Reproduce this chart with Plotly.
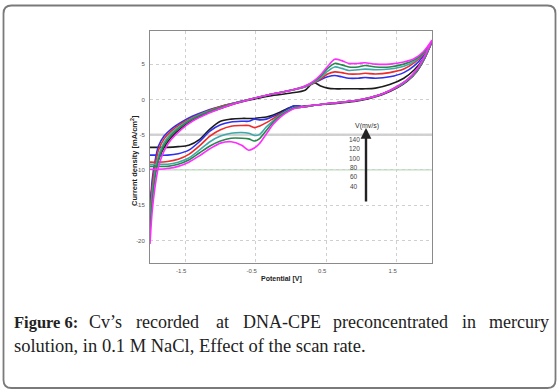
import plotly.graph_objects as go

W, H = 559, 392

# ---------------- data ----------------
scan_rates = [40, 60, 80, 100, 120, 140]
colors = ["#1c1c1c", "#2f2fee", "#ee2a2a", "#3fa9a9", "#26884a", "#ff2bff"]

v_up = [-2.0, -1.97, -1.93, -1.88, -1.8, -1.7, -1.55, -1.4, -1.2, -1.0, -0.8, -0.55, -0.3, 0.0,
        0.2, 0.32, 0.42, 0.52, 0.62, 0.72, 0.82, 0.95, 1.05, 1.2, 1.4, 1.6, 1.75, 1.88, 2.0]
v_dn = [2.0, 1.9, 1.78, 1.65, 1.5, 1.3, 1.1, 0.9, 0.6, 0.35, 0.15, 0.05, -0.05, -0.15, -0.25,
        -0.35, -0.45, -0.52, -0.6, -0.7, -0.85, -1.0, -1.15, -1.3, -1.45, -1.6, -1.75, -1.9, -2.0]

i_up_40 = [-14.5, -12.5, -10.5, -8.6, -6.8, -5.4, -4.0, -3.0, -2.0, -1.3, -0.6, 0.0, 0.5, 0.9,
           1.3, 2.4, 1.9, 1.6, 1.5, 1.5, 1.5, 1.5, 1.5, 1.6, 2.1, 3.0, 4.2, 5.8, 8.2]
i_up_60 = [-16.0, -11.5, -8.8, -6.6, -5.2, -4.2, -3.2, -2.4, -1.6, -1.0, -0.5, 0.1, 0.7, 1.3,
           1.8, 2.3, 2.8, 3.2, 3.4, 3.2, 3.0, 3.0, 3.1, 3.0, 3.2, 3.8, 4.8, 6.2, 8.2]
i_up_80 = [-16.5, -12.5, -9.5, -7.2, -5.6, -4.5, -3.4, -2.6, -1.7, -1.0, -0.5, 0.1, 0.7, 1.3,
           1.8, 2.3, 2.9, 3.6, 3.9, 3.8, 3.6, 3.6, 3.7, 3.6, 3.8, 4.3, 5.2, 6.4, 8.2]
i_up_100 = [-17.5, -13.5, -10.5, -8.0, -6.1, -4.8, -3.6, -2.7, -1.8, -1.1, -0.5, 0.1, 0.7, 1.3,
            1.8, 2.4, 3.1, 4.0, 4.6, 4.4, 4.1, 4.2, 4.3, 4.2, 4.3, 4.7, 5.4, 6.5, 8.2]
i_up_120 = [-18.5, -14.5, -11.2, -8.6, -6.5, -5.1, -3.8, -2.8, -1.9, -1.1, -0.5, 0.1, 0.7, 1.3,
            1.9, 2.5, 3.3, 4.4, 5.1, 4.9, 4.6, 4.6, 4.8, 4.6, 4.6, 5.0, 5.6, 6.6, 8.3]
i_up_140 = [-20.5, -16.0, -12.5, -9.6, -7.3, -5.7, -4.2, -3.1, -2.1, -1.3, -0.6, 0.1, 0.7, 1.3,
            1.9, 2.6, 3.5, 4.7, 5.7, 5.5, 5.1, 5.1, 5.2, 5.0, 5.0, 5.3, 5.8, 6.8, 8.4]

i_dn_40 = [8.2, 5.9, 3.9, 2.6, 1.6, 0.7, 0.1, -0.3, -0.6, -0.8, -1.0, -0.9, -1.3, -1.8, -2.2,
           -2.5, -2.6, -2.7, -2.7, -2.7, -2.8, -3.1, -4.2, -5.7, -6.5, -6.7, -6.8, -6.8, -6.8]
i_dn_60 = [8.2, 6.0, 4.0, 2.7, 1.7, 0.8, 0.2, -0.2, -0.5, -0.8, -1.0, -0.9, -1.4, -2.0, -2.4,
           -2.8, -2.9, -2.8, -3.1, -3.1, -3.2, -3.6, -4.5, -6.0, -7.2, -7.7, -7.9, -7.9, -7.9]
i_dn_80 = [8.2, 6.0, 4.0, 2.7, 1.7, 0.8, 0.2, -0.2, -0.5, -0.8, -1.1, -1.2, -1.6, -2.1, -2.7,
           -3.3, -3.8, -4.0, -3.7, -3.7, -3.8, -4.3, -5.2, -6.6, -7.8, -8.5, -8.8, -8.9, -8.9]
i_dn_100 = [8.2, 6.0, 4.0, 2.7, 1.7, 0.8, 0.2, -0.2, -0.5, -0.8, -1.1, -1.2, -1.6, -2.2, -3.0,
            -3.9, -5.0, -5.1, -4.8, -4.7, -4.8, -5.2, -6.0, -7.2, -8.3, -8.9, -9.2, -9.2, -9.2]
i_dn_120 = [8.3, 6.1, 4.1, 2.8, 1.8, 0.8, 0.2, -0.2, -0.5, -0.8, -1.1, -1.2, -1.7, -2.3, -3.2,
            -4.4, -5.6, -5.9, -5.6, -5.5, -5.5, -5.9, -6.6, -7.6, -8.6, -9.2, -9.5, -9.5, -9.5]
i_dn_140 = [8.4, 6.2, 4.2, 2.8, 1.8, 0.8, 0.2, -0.2, -0.5, -0.8, -1.1, -1.3, -1.8, -2.5, -3.5,
            -4.9, -6.3, -6.9, -7.2, -6.5, -6.0, -6.2, -7.0, -8.0, -8.9, -9.5, -9.8, -9.9, -9.9]

i_up = [i_up_40, i_up_60, i_up_80, i_up_100, i_up_120, i_up_140]
i_dn = [i_dn_40, i_dn_60, i_dn_80, i_dn_100, i_dn_120, i_dn_140]

x_ticks = [-1.5, -0.5, 0.5, 1.5]
x_ticktext = ["-1.5", "-0.5", "0.5", "1.5"]
y_ticks = [5, 0, -5, -10, -15, -20]
y_ticktext = ["5", "0", "-5", "-10", "-15", "-20"]

legend_title = "V(mv/s)"
legend_labels = ["140", "120", "100", "80", "60", "40"]

caption_line1 = ["<b>Figure 6:</b>", "Cv’s", "recorded", "at", "DNA-CPE", "preconcentrated", "in", "mercury"]
caption_line2 = "solution, in 0.1 M NaCl, Effect of the scan rate."

# ---------------- figure ----------------
fig = go.Figure()
for k, rate in enumerate(scan_rates):
    fig.add_trace(go.Scatter(
        x=v_up + v_dn, y=i_up[k] + i_dn[k], mode="lines",
        line=dict(color=colors[k], width=1.6, shape="spline", smoothing=0.8),
        name=f"{rate} mV/s", showlegend=False, hoverinfo="skip"))

# plot area in pixels
L, R, T, B = 150, 432, 31, 263

def px(x):
    return x / W

def py(y):
    return 1 - y / H

tickfont = dict(family="Liberation Sans, Arial", size=6, color="#555")
fig.update_layout(
    width=W, height=H, margin=dict(l=0, r=0, t=0, b=0),
    paper_bgcolor="white", plot_bgcolor="white",
    xaxis=dict(domain=[px(L), px(R)], range=[-2.0, 2.0], tickvals=x_ticks, ticktext=x_ticktext,
               showgrid=True, gridcolor="#cfcfcf", griddash="dot", gridwidth=1,
               zeroline=False, showline=True, linecolor="#8a8a8a", linewidth=1, mirror=True,
               ticks="", tickfont=tickfont, ticklabelstandoff=2, ticklabelshift=-4),
    yaxis=dict(domain=[py(B), py(T)], range=[-23.2, 9.7], tickvals=y_ticks, ticktext=y_ticktext,
               showgrid=True, gridcolor="#cfcfcf", griddash="dot", gridwidth=1,
               zeroline=False, showline=True, linecolor="#8a8a8a", linewidth=1, mirror=True,
               ticks="", tickfont=tickfont, ticklabelstandoff=3),
)

# special grid lines seen in the reference (y=-5 solid grey, y=-10 light green)
fig.add_shape(type="line", xref="paper", x0=px(L), x1=px(R), yref="y", y0=-5, y1=-5,
              line=dict(color="#d2d2d2", width=2.5), layer="between")
fig.add_shape(type="line", xref="paper", x0=px(L), x1=px(R), yref="y", y0=-10, y1=-10,
              line=dict(color="#a9d6a9", width=1), layer="between")

# outer rounded frame
x0, x1, y0, y1, r = 3.5, 555.5, 5.5, 388.0, 8
def P(x, y):
    return f"{px(x):.5f},{py(y):.5f}"
path = (f"M {P(x0+r, y0)} L {P(x1-r, y0)} Q {P(x1, y0)} {P(x1, y0+r)} "
        f"L {P(x1, y1-r)} Q {P(x1, y1)} {P(x1-r, y1)} L {P(x0+r, y1)} "
        f"Q {P(x0, y1)} {P(x0, y1-r)} L {P(x0, y0+r)} Q {P(x0, y0)} {P(x0+r, y0)} Z")
fig.add_shape(type="path", xref="paper", yref="paper", path=path,
              line=dict(color="#7a7a7a", width=1.8))

# axis titles
fig.add_annotation(xref="paper", yref="paper", x=px(281), y=py(285), text="<b>Potential [V]</b>",
                   showarrow=False, font=dict(family="Liberation Sans, Arial", size=7, color="#222"))
fig.add_annotation(xref="paper", yref="paper", x=px(127), y=py(161),
                   text="<b>Current density [mA/cm<sup>2</sup>]</b>", textangle=-90,
                   showarrow=False, font=dict(family="Liberation Sans, Arial", size=7.5, color="#222"))

# scan-rate annotation with arrow
fig.add_annotation(xref="paper", yref="paper", x=px(367), y=py(120), text=legend_title,
                   showarrow=False, font=dict(family="Liberation Sans, Arial", size=7, color="#333"))
fig.add_annotation(xref="paper", yref="paper", x=px(366), y=py(128), ax=0, ay=75, text="",
                   showarrow=True, arrowhead=2, arrowsize=0.9, arrowwidth=2.4, arrowcolor="#222")
for j, lab in enumerate(legend_labels):
    fig.add_annotation(xref="paper", yref="paper", x=px(354), y=py(139 + 9.5 * j), text=lab,
                       showarrow=False, font=dict(family="Liberation Sans, Arial", size=6.5, color="#444"))

# caption (justified first line)
word_x = [12, 87, 134, 214, 241, 331, 460, 487]
word_size = [16.5, 18, 18, 18, 18, 18, 18, 18]
serif = "Liberation Serif, Times New Roman, serif"
for wx, ws, word in zip(word_x, word_size, caption_line1):
    fig.add_annotation(xref="paper", yref="paper", x=px(wx), y=py(322), text=word,
                       xanchor="left", yanchor="middle", showarrow=False,
                       font=dict(family=serif, size=ws, color="#222"))
fig.add_annotation(xref="paper", yref="paper", x=px(12), y=py(346), text=caption_line2,
                   xanchor="left", yanchor="middle", showarrow=False,
                   font=dict(family=serif, size=18.5, color="#222"))

fig.write_html("out.html", config={"displayModeBar": False},
               post_script="document.body.style.margin='0px';")
